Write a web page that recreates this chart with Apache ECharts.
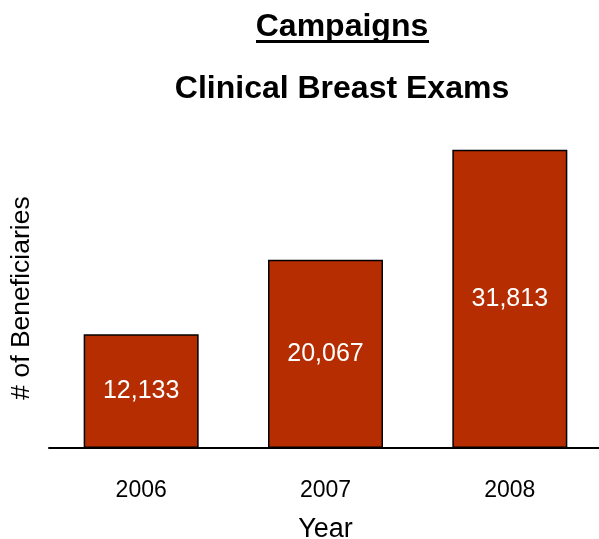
<!DOCTYPE html>
<html>
<head>
<meta charset="utf-8">
<script src="https://cdn.jsdelivr.net/npm/echarts@6/dist/echarts.min.js"></script>
<style>
  html, body { margin: 0; padding: 0; background: #fff; }
  #chart { width: 599px; height: 539px; }
</style>
</head>
<body>
<div id="chart"></div>
<script>
// 数据
const years = ['2006', '2007', '2008']
const beneficiaries = [12133, 20067, 31813]

const font = '"Liberation Sans", Arial, sans-serif'
const chart = echarts.init(document.getElementById('chart'))

chart.setOption({
  animation: false,
  title: [
    {
      text: 'Campaigns',
      left: 342, top: 11, textAlign: 'center', padding: 0,
      textStyle: { fontFamily: font, fontSize: 32, fontWeight: 'bold', color: '#000' }
    },
    {
      text: 'Clinical Breast Exams',
      left: 342, top: 73, textAlign: 'center', padding: 0,
      textStyle: { fontFamily: font, fontSize: 32, fontWeight: 'bold', color: '#000' }
    }
  ],
  graphic: [
    // 标题下划线
    { type: 'rect', shape: { x: 256, y: 40, width: 173, height: 3 }, style: { fill: '#000' } },
    {
      type: 'text', x: 22, y: 298, rotation: Math.PI / 2,
      style: { text: '# of Beneficiaries', fontFamily: font, fontSize: 26.5, fill: '#000',
        textAlign: 'center', textVerticalAlign: 'middle' }
    }
  ],
  grid: { left: 49, width: 553, top: 73, height: 375, outerBoundsMode: 'none' },
  xAxis: {
    type: 'category',
    data: years,
    name: 'Year',
    nameLocation: 'middle',
    nameGap: 68,
    nameTextStyle: { fontFamily: font, fontSize: 27, color: '#000' },
    axisLine: { lineStyle: { color: '#000', width: 2 } },
    axisTick: { show: false },
    axisLabel: { fontFamily: font, fontSize: 23, color: '#000', margin: 31 }
  },
  yAxis: {
    type: 'value',
    min: 0,
    max: 40000,
    show: false
  },
  series: [{
    type: 'bar',
    data: beneficiaries,
    barWidth: 115,
    itemStyle: { color: '#b52d00', borderColor: '#000', borderWidth: 1.5 },
    label: {
      show: true,
      position: 'inside',
      fontFamily: font,
      fontSize: 25,
      color: '#fff',
      formatter: p => p.value.toLocaleString('en-US')
    }
  }]
})
</script>
</body>
</html>
